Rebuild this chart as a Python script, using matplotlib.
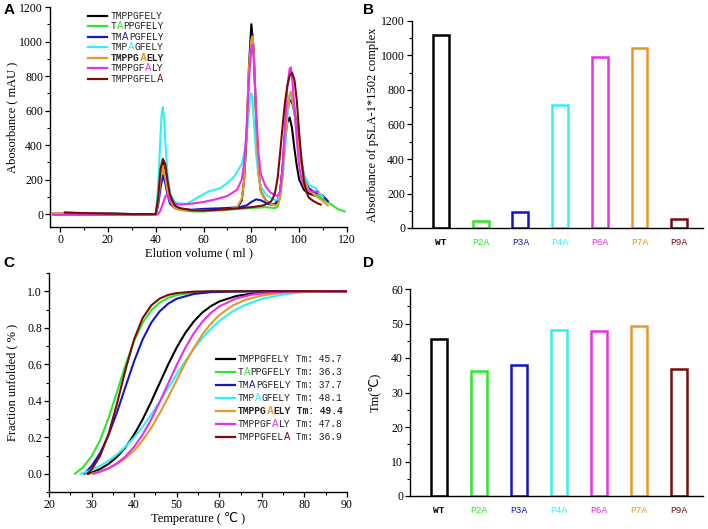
import matplotlib
matplotlib.use("Agg")
import matplotlib.pyplot as plt
from matplotlib.ticker import MultipleLocator

# ---------------- data ----------------
names = ["TMPPGFELY", "TAPPGFELY", "TMAPGFELY", "TMPAGFELY", "TMPPGAELY", "TMPPGFALY", "TMPPGFELA"]
mut_pos = [None, 1, 2, 3, 5, 6, 8]
colors = ["#000000", "#2ee62e", "#1515c8", "#30f0f0", "#e8962a", "#e830e8", "#7a0c0c"]
bar_cats = ["WT", "P2A", "P3A", "P4A", "P6A", "P7A", "P9A"]
bar_colors = ["#000000", "#2ee62e", "#1515c8", "#30f0f0", "#e830e8", "#e8962a", "#7a0c0c"]
bar_abs = [1117, 42, 93, 713, 990, 1043, 53]
tm_vals = [45.4, 36.3, 37.9, 48.2, 47.9, 49.3, 36.9]  # order of bar_cats
tm_legend = [45.7, 36.3, 37.7, 48.1, 49.4, 47.8, 36.9]  # order of names

# Panel A: elution profiles (x ml, y mAU)
a_black_x = [2, 15, 30, 40, 41, 42, 43, 44, 45, 46, 48, 50, 55, 60, 65, 70, 74, 76, 77, 78, 79, 80, 81, 82, 83, 84, 86, 88, 90, 91, 92, 93, 94, 95, 96, 97, 98, 99, 100, 102, 104, 106, 108, 110]
a_black_y = [8, 4, 0, 0, 80, 250, 300, 230, 150, 90, 45, 30, 20, 20, 25, 30, 35, 80, 200, 450, 850, 1100, 950, 550, 250, 130, 80, 60, 55, 70, 120, 250, 420, 530, 560, 500, 380, 280, 200, 140, 120, 110, 100, 80]
a_green_x = [-3, 15, 30, 40, 41, 42, 43, 44, 45, 46, 48, 50, 55, 60, 70, 80, 86, 90, 91, 92, 93, 94, 95, 96, 96.5, 97, 98, 99, 100, 101, 102, 104, 106, 108, 110, 112, 114, 116, 119]
a_green_y = [5, 2, 0, 0, 70, 200, 270, 210, 130, 70, 35, 25, 15, 15, 25, 35, 40, 35, 45, 100, 250, 450, 620, 680, 690, 680, 620, 520, 400, 300, 220, 150, 125, 105, 90, 70, 50, 30, 15]
a_blue_x = [-3, 15, 30, 40, 41, 42, 43, 44, 45, 46, 48, 50, 55, 60, 70, 75, 78, 80, 82, 84, 86, 88, 90, 91, 92, 93, 94, 95, 96, 96.5, 97, 98, 99, 100, 101, 102, 104, 106, 108, 110, 112]
a_blue_y = [5, 2, 0, 0, 50, 150, 225, 180, 110, 60, 35, 30, 25, 30, 35, 40, 50, 70, 85, 80, 65, 55, 60, 80, 130, 260, 450, 600, 655, 660, 650, 590, 500, 400, 300, 220, 150, 130, 120, 105, 75]
a_cyan_x = [-3, 15, 30, 40, 41, 42, 42.5, 43, 43.5, 44, 45, 46, 48, 50, 53, 55, 58, 62, 67, 70, 73, 76, 77, 78, 79, 79.5, 80, 80.5, 81, 82, 83, 84, 86, 88, 90, 91, 92, 93, 94, 95, 96, 97, 98, 99, 100, 102, 104, 106, 107, 108, 110]
a_cyan_y = [5, 2, 0, 0, 150, 450, 580, 620, 560, 420, 220, 120, 70, 60, 60, 75, 100, 130, 150, 180, 220, 290, 350, 450, 600, 680, 700, 660, 550, 350, 220, 160, 115, 95, 80, 85, 110, 200, 350, 550, 690, 680, 590, 470, 360, 230, 170, 155, 150, 125, 100]
a_orange_x = [-3, 15, 30, 40, 41, 42, 43, 44, 45, 46, 48, 50, 60, 70, 74, 76, 77, 78, 79, 80, 80.5, 81, 82, 83, 84, 86, 88, 90, 91, 92, 93, 94, 95, 96, 96.5, 97, 98, 99, 100, 102, 104, 106, 108, 110, 112]
a_orange_y = [5, 2, 0, 0, 70, 200, 280, 210, 130, 75, 35, 25, 20, 25, 40, 90, 200, 500, 850, 1010, 1030, 950, 550, 230, 130, 80, 60, 50, 55, 90, 220, 420, 600, 690, 710, 690, 600, 480, 360, 200, 140, 115, 95, 75, 50]
a_magenta_x = [-3, 15, 30, 40, 41, 42, 43, 44, 44.5, 45, 46, 48, 50, 55, 60, 65, 70, 74, 76, 77, 78, 79, 80, 80.5, 81, 82, 83, 84, 86, 88, 90, 91, 92, 93, 94, 95, 96, 96.5, 97, 98, 99, 100, 101, 102, 104, 106, 108]
a_magenta_y = [-5, -5, -5, -5, 0, 20, 60, 100, 110, 105, 80, 60, 55, 60, 70, 85, 105, 140, 200, 300, 480, 780, 960, 980, 900, 600, 350, 230, 160, 125, 110, 105, 130, 260, 500, 730, 840, 850, 800, 620, 430, 280, 200, 160, 135, 130, 130]
a_darkred_x = [2, 15, 30, 40, 41, 42, 43, 44, 45, 46, 48, 50, 55, 60, 70, 80, 85, 88, 89, 90, 91, 92, 93, 94, 95, 96, 97, 98, 99, 100, 101, 102, 103, 104, 106, 108, 109]
a_darkred_y = [8, 4, 0, 0, 90, 260, 320, 290, 190, 110, 50, 35, 22, 20, 28, 40, 50, 70, 90, 130, 210, 350, 500, 640, 740, 800, 820, 780, 660, 470, 310, 190, 130, 95, 75, 60, 55]

# Panel C: melting curves (T degC, fraction unfolded)
c_black_x = [29.2, 30, 32, 34, 36, 38, 40, 42, 44, 46, 48, 50, 52, 54, 56, 58, 60, 64, 68, 72, 76, 80, 90]
c_black_y = [0, 0.006, 0.026, 0.054, 0.093, 0.146, 0.214, 0.298, 0.394, 0.497, 0.599, 0.692, 0.771, 0.834, 0.883, 0.918, 0.944, 0.974, 0.988, 0.995, 0.998, 1.0, 1.0]
c_green_x = [26.1, 28, 30, 32, 34, 36, 38, 40, 42, 44, 46, 48, 50, 54, 58, 65, 90]
c_green_y = [0, 0.036, 0.095, 0.184, 0.306, 0.450, 0.598, 0.728, 0.827, 0.895, 0.938, 0.964, 0.979, 0.993, 0.998, 1.0, 1.0]
c_blue_x = [28.3, 30, 32, 34, 36, 38, 40, 42, 44, 46, 48, 50, 54, 58, 62, 70, 90]
c_blue_y = [0, 0.042, 0.113, 0.213, 0.339, 0.479, 0.617, 0.736, 0.827, 0.890, 0.932, 0.959, 0.985, 0.995, 0.998, 1.0, 1.0]
c_cyan_x = [27.5, 30, 32, 34, 36, 38, 40, 42, 44, 46, 48, 50, 52, 54, 56, 58, 60, 63, 66, 70, 75, 80, 85, 90]
c_cyan_y = [0, 0.021, 0.043, 0.071, 0.106, 0.149, 0.199, 0.258, 0.324, 0.395, 0.470, 0.545, 0.617, 0.683, 0.743, 0.794, 0.837, 0.888, 0.924, 0.958, 0.982, 0.996, 1.0, 1.0]
c_orange_x = [30, 32, 34, 36, 38, 40, 42, 44, 46, 48, 50, 52, 54, 56, 58, 60, 63, 66, 70, 75, 80, 85, 90]
c_orange_y = [0, 0.012, 0.030, 0.053, 0.086, 0.128, 0.183, 0.251, 0.331, 0.420, 0.513, 0.605, 0.689, 0.762, 0.822, 0.869, 0.920, 0.952, 0.977, 0.992, 0.998, 1.0, 1.0]
c_magenta_x = [30.5, 32, 34, 36, 38, 40, 42, 44, 46, 48, 50, 52, 54, 56, 58, 60, 64, 68, 72, 76, 80, 90]
c_magenta_y = [0, 0.011, 0.030, 0.058, 0.096, 0.148, 0.215, 0.297, 0.393, 0.495, 0.596, 0.689, 0.769, 0.832, 0.881, 0.917, 0.961, 0.983, 0.993, 0.998, 1.0, 1.0]
c_darkred_x = [29.0, 30, 32, 34, 36, 38, 40, 42, 44, 46, 48, 50, 54, 58, 90]
c_darkred_y = [0, 0.023, 0.098, 0.218, 0.386, 0.573, 0.737, 0.853, 0.922, 0.960, 0.980, 0.990, 0.998, 1.0, 1.0]

a_series = [(a_black_x, a_black_y), (a_green_x, a_green_y), (a_blue_x, a_blue_y), (a_cyan_x, a_cyan_y),
            (a_orange_x, a_orange_y), (a_magenta_x, a_magenta_y), (a_darkred_x, a_darkred_y)]
c_series = [(c_black_x, c_black_y), (c_green_x, c_green_y), (c_blue_x, c_blue_y), (c_cyan_x, c_cyan_y),
            (c_orange_x, c_orange_y), (c_magenta_x, c_magenta_y), (c_darkred_x, c_darkred_y)]

# ---------------- style ----------------
SERIF = ["Liberation Serif", "DejaVu Sans"]
MONO = ["Liberation Mono", "DejaVu Sans Mono"]
SANS = ["Liberation Sans", "DejaVu Sans"]
plt.rcParams["font.family"] = SERIF
plt.rcParams["axes.linewidth"] = 1.0

fig = plt.figure(figsize=(7.08, 5.29), dpi=100)
W, H = 708, 529


def px_axes(l, t, r, b):
    return fig.add_axes([l / W, 1 - b / H, (r - l) / W, (b - t) / H])


def style(ax, fs=8.5):
    for s in ("top", "right"):
        ax.spines[s].set_visible(False)
    ax.tick_params(which="major", direction="out", length=3.5, width=0.9, labelsize=fs, pad=1.5)
    ax.tick_params(which="minor", direction="out", length=2.0, width=0.8)
    for lab in ax.get_xticklabels() + ax.get_yticklabels():
        lab.set_family(SERIF)


def rich_text(ax, x, y, parts, fs=7.0, bold=False):
    t = None
    for s, c, fam in parts:
        kw = dict(color=c, fontsize=fs, family=fam, fontweight="bold" if bold else "normal")
        if t is None:
            t = ax.text(x, y, s, transform=ax.transAxes, va="center", ha="left", **kw)
        else:
            t = ax.annotate(s, xy=(1, 0), xycoords=t, va="bottom", ha="left", **kw)
    return t


def name_parts(name, pos, col):
    if pos is None:
        return [(name, "#222222", MONO)]
    parts = []
    if pos > 0:
        parts.append((name[:pos], "#222222", MONO))
    parts.append((name[pos], col, SANS))
    if pos + 1 < len(name):
        parts.append((name[pos + 1:], "#222222", MONO))
    return parts


def set_labels(ax, xl, yl, xpos, ypos):
    if xl:
        ax.set_xlabel(xl, fontsize=9, family=SERIF)
        ax.xaxis.set_label_coords(0.5, xpos)
    ax.set_ylabel(yl, fontsize=9, family=SERIF)
    ax.yaxis.set_label_coords(ypos, 0.5)
    ax.xaxis.label.set_va("center")
    ax.yaxis.label.set_va("center")


# ---------------- Panel A ----------------
axA = px_axes(50, 7, 347, 227)
for (x, y), c in zip(a_series, colors):
    axA.plot(x, y, color=c, lw=1.5)
axA.set_xlim(-4.2, 120)
axA.set_ylim(-75, 1200)
axA.xaxis.set_major_locator(MultipleLocator(20))
axA.xaxis.set_minor_locator(MultipleLocator(10))
axA.yaxis.set_major_locator(MultipleLocator(200))
axA.yaxis.set_minor_locator(MultipleLocator(100))
style(axA)
set_labels(axA, "Elution volume ( ml )", "Abosorbance ( mAU )", -0.118, -0.128)
for i, (nm, p, c) in enumerate(zip(names, mut_pos, colors)):
    yy = 0.960 - i * 0.0477
    axA.plot([0.128, 0.192], [yy, yy], color=c, lw=1.6, transform=axA.transAxes)
    rich_text(axA, 0.205, yy, name_parts(nm, p, c), fs=6.9, bold=(i == 4))

# ---------------- Panel B ----------------
axB = px_axes(412, 21, 703, 228)
xs = list(range(len(bar_cats)))
axB.bar(xs, bar_abs, width=0.4, fill=False, edgecolor=bar_colors, linewidth=1.8)
axB.set_xlim(-0.73, 6.6)
axB.set_ylim(0, 1200)
axB.yaxis.set_major_locator(MultipleLocator(200))
axB.yaxis.set_minor_locator(MultipleLocator(100))
style(axB)
axB.set_xticks(xs)
axB.set_xticklabels(bar_cats)
axB.tick_params(axis="x", length=0, pad=7)
for lab, c in zip(axB.get_xticklabels(), bar_colors):
    lab.set_color(c)
    lab.set_family(MONO)
    lab.set_fontsize(6.8)
axB.get_xticklabels()[0].set_fontweight("bold")
set_labels(axB, None, "Absorbance of pSLA-1*1502 complex", None, -0.134)

# ---------------- Panel C ----------------
axC = px_axes(49, 273, 347, 492)
for (x, y), c in zip(c_series, colors):
    axC.plot(x, y, color=c, lw=1.5)
axC.set_xlim(20, 90)
axC.set_ylim(-0.1, 1.1)
axC.xaxis.set_major_locator(MultipleLocator(10))
axC.xaxis.set_minor_locator(MultipleLocator(5))
axC.yaxis.set_major_locator(MultipleLocator(0.2))
axC.yaxis.set_minor_locator(MultipleLocator(0.1))
axC.yaxis.set_major_formatter(matplotlib.ticker.FormatStrFormatter("%.1f"))
style(axC)
set_labels(axC, "Temperature ( ℃ )", "Fraction unfolded ( % )", -0.12, -0.124)
for i, (nm, p, c, tm) in enumerate(zip(names, mut_pos, colors, tm_legend)):
    yy = 0.607 - i * 0.0594
    axC.plot([0.560, 0.624], [yy, yy], color=c, lw=1.6, transform=axC.transAxes)
    parts = name_parts(nm, p, c) + [(" Tm: %.1f" % tm, "#222222", MONO)]
    rich_text(axC, 0.634, yy, parts, fs=6.9, bold=(i == 4))

# ---------------- Panel D ----------------
axD = px_axes(410, 289, 703, 496)
axD.bar(xs, tm_vals, width=0.4, fill=False, edgecolor=bar_colors, linewidth=1.8)
axD.set_xlim(-0.73, 6.6)
axD.set_ylim(0, 60)
axD.yaxis.set_major_locator(MultipleLocator(10))
axD.yaxis.set_minor_locator(MultipleLocator(5))
style(axD)
axD.set_xticks(xs)
axD.set_xticklabels(bar_cats)
axD.tick_params(axis="x", length=0, pad=7)
for lab, c in zip(axD.get_xticklabels(), bar_colors):
    lab.set_color(c)
    lab.set_family(MONO)
    lab.set_fontsize(6.8)
axD.get_xticklabels()[0].set_fontweight("bold")
set_labels(axD, None, "Tm(℃)", None, -0.12)

# ---------------- panel letters ----------------
for lt, (x, y) in zip("ABCD", [(9, 10), (368, 10), (9, 263), (368, 263)]):
    fig.text(x / W, 1 - y / H, lt, fontsize=11, fontweight="bold", family=SANS, ha="center", va="center")

fig.savefig("out.png", dpi=100)
